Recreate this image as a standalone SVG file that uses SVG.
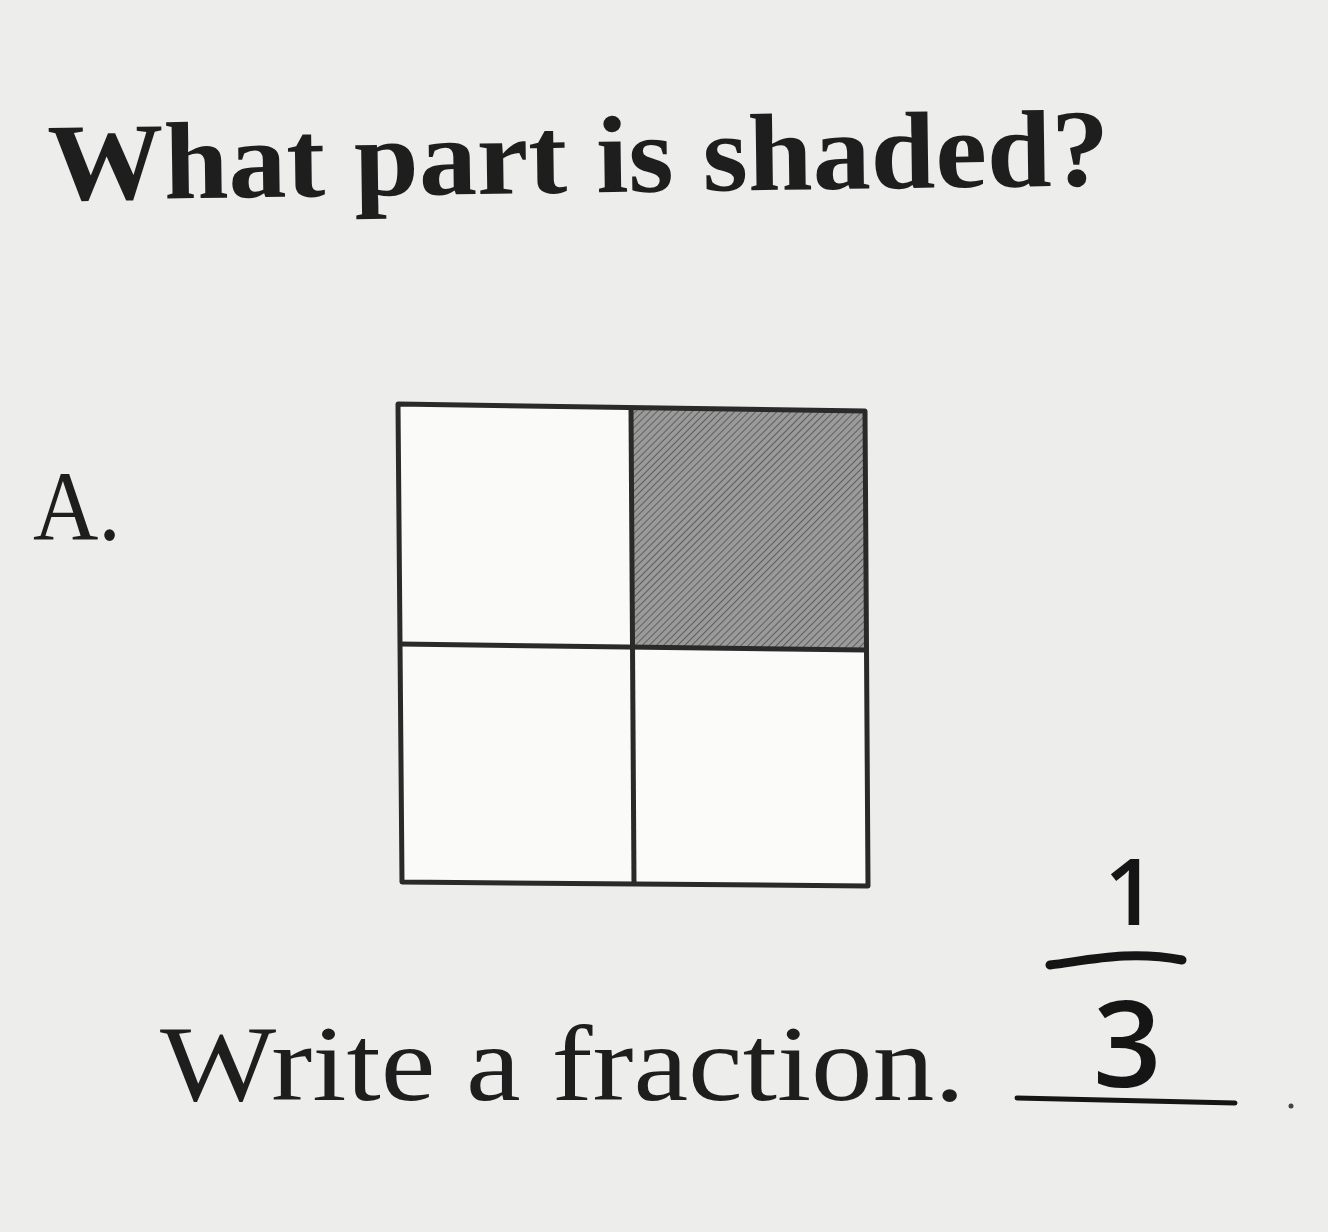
<svg xmlns="http://www.w3.org/2000/svg" width="1328" height="1232" viewBox="0 0 1328 1232">
<defs>
<pattern id="hatch" width="5" height="5" patternUnits="userSpaceOnUse" patternTransform="rotate(45)">
<rect width="5" height="5" fill="#9a9a9a"/>
<line x1="0" y1="0" x2="0" y2="5" stroke="#5e5e5e" stroke-width="2"/>
</pattern>
<style>
.serif{font-family:"Liberation Serif","DejaVu Serif",serif;fill:#1e1e1e}
.hand{font-family:"Open Sans","DejaVu Sans",sans-serif;fill:#151515;font-weight:600}
.grid{fill:none;stroke:#2a2a2a;stroke-width:5;stroke-linejoin:round}
</style>
</defs>
<rect width="1328" height="1232" fill="#ededeb"/>
<g id="title">
<text class="serif" x="48" y="200" font-size="110" font-weight="bold" textLength="1062" lengthAdjust="spacingAndGlyphs" transform="rotate(-0.8 48 200)">What part is shaded?</text>
</g>
<g id="label-a">
<text class="serif" x="33" y="540" font-size="100" textLength="88" lengthAdjust="spacingAndGlyphs">A.</text>
</g>
<g id="grid">
<path d="M631,407 L865,411 L866,650 L632,646 Z" fill="url(#hatch)"/>
<path d="M398,404 L631,407 L632,646 L400,644 Z" fill="#fafaf8"/>
<path d="M400,644 L632,646 L634,884 L402,882 Z" fill="#fafaf8"/>
<path d="M632,646 L866,650 L868,886 L634,884 Z" fill="#fbfbf9"/>
<path class="grid" d="M398,404 L865,411 L868,886 L402,882 Z"/>
<path class="grid" d="M631,407 L634,884"/>
<path class="grid" d="M400,644 L866,650"/>
</g>
<g id="prompt">
<text class="serif" x="160" y="1100" font-size="108" textLength="805" lengthAdjust="spacingAndGlyphs">Write a fraction.</text>
</g>
<g id="answer">
<text class="hand" x="1104" y="925" font-size="92">1</text>
<path d="M1050,965 C1090,960 1130,950 1182,960" fill="none" stroke="#151515" stroke-width="9" stroke-linecap="round"/>
<text class="hand" x="1093" y="1087" font-size="120">3</text>
<path d="M1017,1098 L1235,1103" fill="none" stroke="#151515" stroke-width="5" stroke-linecap="round"/>
<circle cx="1291" cy="1106" r="2.5" fill="#444"/>
</g>
</svg>
